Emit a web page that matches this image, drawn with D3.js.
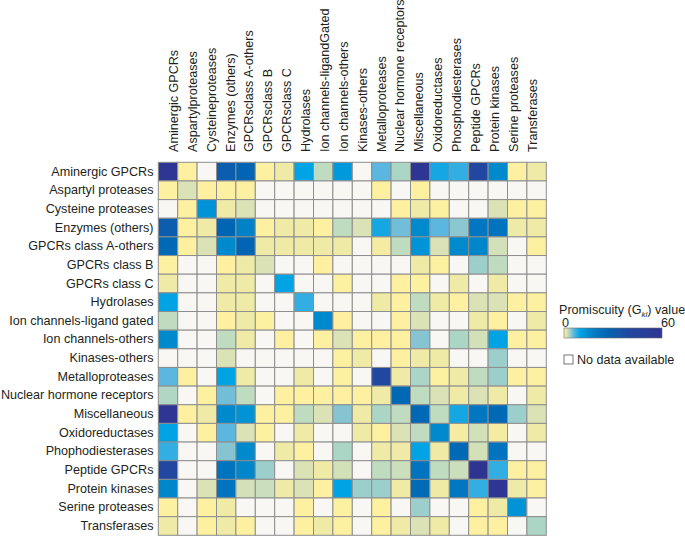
<!DOCTYPE html>
<html>
<head>
<meta charset="utf-8">
<script src="https://cdn.jsdelivr.net/npm/d3@7"></script>
<style>
  html, body { margin: 0; padding: 0; background: #ffffff; }
  svg { display: block; }
  text { font-family: "Liberation Sans", Arial, Helvetica, sans-serif; fill: #231f20; }
</style>
</head>
<body>
<svg id="chart" width="685" height="536"></svg>
<script>
const columns = ["Aminergic GPCRs", "Aspartylproteases", "Cysteineproteases", "Enzymes (others)",
  "GPCRsclass A-others", "GPCRsclass B", "GPCRsclass C", "Hydrolases", "Ion channels-ligandGated",
  "Ion channels-others", "Kinases-others", "Metalloproteases", "Nuclear hormone receptors",
  "Miscellaneous", "Oxidoreductases", "Phosphodiesterases", "Peptide GPCRs", "Protein kinases",
  "Serine proteases", "Transferases"];

const rows = ["Aminergic GPCRs", "Aspartyl proteases", "Cysteine proteases", "Enzymes (others)",
  "GPCRs class A-others", "GPCRs class B", "GPCRs class C", "Hydrolases", "Ion channels-ligand gated",
  "Ion channels-others", "Kinases-others", "Metalloproteases", "Nuclear hormone receptors",
  "Miscellaneous", "Oxidoreductases", "Phophodiesterases", "Peptide GPCRs", "Protein kinases",
  "Serine proteases", "Transferases"];

// Promiscuity (Gkl) values, null = no data available
const values = [
  [58, 0.5, null, 30, 26, 0.5, 1, 10, 2.5, 12, null, 6, 3.2, 58, 9, 7.5, 40, 15, 0.5, 1],
  [0.5, 1.8, 0.5, 0.5, 0.5, null, null, null, null, null, null, 0.5, null, 0.5, null, null, null, null, null, null],
  [null, 0.5, 13, 1, 1.8, null, null, null, null, null, null, null, 0.5, 1, 0.5, null, null, 1.8, 0.5, 0.5],
  [30, 0.5, 1, 26, 17, 0.5, 1, 1, 0.5, 2.5, 1.8, 9, 5.3, 15, 6, 4.4, 20, 21, 1, 1],
  [25, 0.5, 1.8, 15, 26, 1, 1, 1, 1, 1, null, 0.8, 2.5, 13, 1.8, 15, 16, 2, null, 0.5],
  [0.5, null, null, 0.5, 1, 1.8, null, null, 0.5, null, null, null, null, 1, 0.5, null, 3.8, 2.5, null, null],
  [1, null, null, 1, 1, null, 10, null, null, 0.5, null, null, 0.5, 0.5, null, 1, null, 1, null, null],
  [10, null, null, 1, 1, null, null, 7.5, null, null, null, 1, 0.5, 2.5, 1, 0.5, 1.8, 1.8, 0.5, 0.5],
  [2.5, null, null, 0.5, 1, 0.5, null, null, 15, 0.5, null, null, 0.5, 1.8, null, null, 1, 0.5, null, 1],
  [15, null, null, 2.5, 1, null, 0.5, null, 0.5, 1.8, 0.5, 0.5, 0.5, 4.6, null, 3.2, 2, 10, 0.5, 0.5],
  [null, null, null, 1.8, null, null, null, null, null, 0.5, 1, null, 0.5, 1, 1, null, null, 3.8, null, null],
  [6, 0.5, null, 10, 1, null, null, 1, null, 0.5, null, 40, 1, 3.2, 0.5, 1, 2.5, 3.8, 0.5, 0.5],
  [3, null, 0.5, 5.3, 2.5, null, 0.5, 0.5, 0.5, 0.5, 0.5, 1, 25, 2.5, 1.8, 1, 1.8, 1, null, 1],
  [58, 0.5, 1, 15, 13, 0.5, 0.5, 2.5, 1.8, 4.6, 1, 3.2, 2.5, 25, 2.5, 9, 20, 25, 3.8, 1.8],
  [10, null, 0.5, 6, 1.8, 0.5, null, 1, null, null, 1, 0.5, 1.8, 2.5, 15, 0.8, 2, 0.8, null, 1],
  [7.5, null, null, 4.6, 15, null, 1, 0.5, null, 3.2, null, 1, 1, 10, 1, 25, 2, 21, null, null],
  [40, null, null, 21, 16, 3.8, null, 1.8, 1, 2, null, 2.5, 2.2, 21, 2.5, 2.2, 60, 7.5, 0.5, 0.5],
  [16, null, 1.8, 21, 2, 2.2, 1, 1.8, 0.5, 10, 3.8, 3.8, 1, 24, 1, 20, 7.5, 58, 1, 0.5],
  [0.5, null, 0.5, 1, null, null, null, 0.5, null, 0.5, null, 0.5, null, 3.8, null, null, 0.5, 1, 13, null],
  [1, null, 0.5, 1, 0.5, null, null, 0.5, 1, 0.5, null, 0.5, 1, 1.8, 1, null, 0.5, 0.5, null, 3.2]
];

const legendTicks = [0, 60];
const legendTitle = "Promiscuity (G";
const legendSub = "kl";
const legendTitleEnd = ") value";
const noDataLabel = "No data available";

// colour map (value -> colour)
const colorDomain = [0, 0.5, 1, 1.8, 2.5, 3.2, 3.8, 4.6, 6, 7.5, 10, 15, 20, 26, 33, 40, 60];
const colorRange = ["#fbf3a2", "#fdf0a0", "#efeaa6", "#dbe3b6", "#bfdcc0", "#abd5c5", "#9ccfcc",
  "#86c4d2", "#5bb7e0", "#33aee2", "#00a3e4", "#008ace", "#0077c0", "#0066b3", "#1557a8", "#2147a0", "#2e3591"];
const noDataColor = "#f8f7f4";

const color = d3.scaleLinear().domain(colorDomain).range(colorRange).interpolate(d3.interpolateRgb).clamp(true);

const svg = d3.select("#chart");

const x = d3.scaleBand().domain(columns).range([158.3, 546.3]).paddingInner(0);
const y = d3.scaleBand().domain(rows).range([162.3, 535.3]).paddingInner(0);
const xLabel = d3.scalePoint().domain(columns).range([174, 532.5]);

const cells = [];
rows.forEach((r, i) => columns.forEach((c, j) => cells.push({ r, c, v: values[i][j] })));

svg.append("g").selectAll("rect")
  .data(cells)
  .join("rect")
  .attr("x", d => x(d.c))
  .attr("y", d => y(d.r))
  .attr("width", x.bandwidth())
  .attr("height", y.bandwidth())
  .attr("fill", d => d.v == null ? noDataColor : color(d.v))
  .attr("stroke", "#8e8e8e")
  .attr("stroke-width", 1);

// row labels
svg.append("g").selectAll("text")
  .data(rows)
  .join("text")
  .attr("x", 153.5)
  .attr("y", d => y(d) + y.bandwidth() / 2)
  .attr("text-anchor", "end")
  .attr("dominant-baseline", "central")
  .style("font-size", "12.6px")
  .text(d => d);

// column labels
svg.append("g").selectAll("text")
  .data(columns)
  .join("text")
  .attr("transform", d => `translate(${xLabel(d)},152) rotate(-90)`)
  .attr("text-anchor", "start")
  .attr("dominant-baseline", "central")
  .style("font-size", "12.6px")
  .text(d => d);

// legend
const lg = svg.append("g");
const t = lg.append("text").attr("x", 559).attr("y", 314).style("font-size", "12.6px");
t.append("tspan").text(legendTitle);
t.append("tspan").attr("dy", 3).style("font-size", "8px").style("font-style", "italic").text(legendSub);
t.append("tspan").attr("dy", -3).text(legendTitleEnd);

const lx = d3.scaleLinear().domain([0, 60]).range([564, 662]);
const defs = svg.append("defs");
const grad = defs.append("linearGradient").attr("id", "cbar").attr("x1", "0%").attr("x2", "100%");
d3.range(0, 60.01, 0.5).forEach(v => {
  grad.append("stop").attr("offset", (v / 60 * 100) + "%").attr("stop-color", color(v));
});
lg.append("rect")
  .attr("x", lx(0)).attr("y", 328)
  .attr("width", lx(60) - lx(0)).attr("height", 10)
  .attr("fill", "url(#cbar)")
  .attr("stroke", "#6d6d6d").attr("stroke-width", 0.6);

lg.selectAll("text.tick")
  .data(legendTicks)
  .join("text")
  .attr("class", "tick")
  .attr("x", d => d === 0 ? lx(d) + 1.5 : lx(d) + 6)
  .attr("y", 323)
  .attr("text-anchor", "middle")
  .attr("dominant-baseline", "central")
  .style("font-size", "12.6px")
  .text(d => d);

lg.append("rect")
  .attr("x", 564).attr("y", 355).attr("width", 9).attr("height", 9)
  .attr("fill", "#ffffff").attr("stroke", "#555").attr("stroke-width", 0.8);
lg.append("text")
  .attr("x", 577).attr("y", 360)
  .attr("dominant-baseline", "central")
  .style("font-size", "12.6px")
  .text(noDataLabel);
</script>
</body>
</html>
